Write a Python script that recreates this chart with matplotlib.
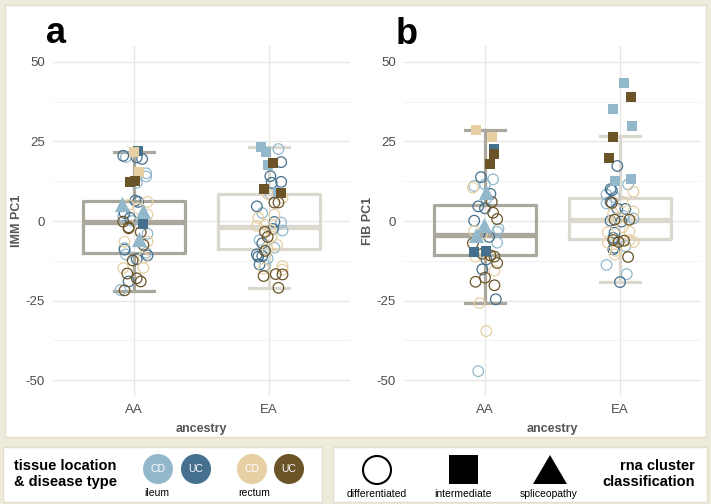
import matplotlib
matplotlib.use('Agg')
import matplotlib.pyplot as plt
from matplotlib.patches import Rectangle, Circle, Polygon
import numpy as np

plt.rcParams['font.family'] = ['Liberation Sans', 'DejaVu Sans']

ancestry = ['AA', 'EA']
# group codes: L ileum CD, D ileum UC, B rectum CD, R rectum UC
group_colors = {'L': '#93b8cc', 'D': '#45708d', 'B': '#e6cfa3', 'R': '#6b5428'}
box_colors = ['#aaa79d', '#dbd8cf']
cream = '#efebdc'

# ---- IMM PC1 (panel a) ----
imm_aa_jit = [0.0, 0.03, -0.08, -0.06, 0.02, 0.06, 0.04, 0.09, 0.09, -0.03, 0.01, 0.02,
              -0.09, 0.01, 0.03, 0.1, -0.04, 0.07, -0.07, -0.08, -0.03, 0.1, 0.03, -0.08,
              -0.04, -0.04, -0.01, 0.03, 0.07, 0.05, 0.1, -0.07, 0.1, 0.04, 0.07, -0.07,
              -0.07, -0.06, 0.1, 0.09, -0.01, 0.02, 0.07, -0.08, 0.07, -0.05, 0.02, 0.05,
              -0.04, -0.1, -0.07]
imm_aa_val = [21.7, 21.9, 20.5, 20.1, 20.0, 19.5, 15.5, 15.0, 14.0, 12.3, 12.6, 12.0,
              5.4, 6.4, 6.0, 6.0, 5.0, 3.0, 2.5, 1.5, 1.0, 2.0, 4.0, -0.2,
              -2.0, -2.3, 0.0, -0.5, -1.0, -3.5, -4.0, -6.5, -6.5, -5.7, -7.5, -8.5,
              -9.0, -10.5, -10.8, -10.0, -12.4, -12.0, -11.5, -14.8, -14.7, -16.5, -18.0, -19.0,
              -19.0, -21.7, -21.8]
imm_aa_grp = 'BDDLDDBLLRRL' + 'LDDBBLDLDBBR' + 'RRLBDRLBBLRL' + 'DLDLRDBBBRRR' + 'DLR'
imm_aa_shp = 'ss' + 'oooo' + 's' + 'oo' + 'ss' + 'o' + '^' + 'oooo' + '^' + 'o' * 10 + 's' + 'oooo' + '^' + 'o' * 17

imm_ea_jit = [-0.06, -0.02, -0.01, 0.07, 0.07, 0.03, -0.04, 0.09, 0.09, 0.01, 0.09, 0.02,
              0.01, -0.01, 0.1, 0.04, 0.07, -0.09, -0.05, 0.04, -0.08, 0.04, 0.09, -0.09,
              -0.03, 0.01, 0.03, 0.1, -0.03, 0.02, -0.01, -0.07, -0.05, 0.04, 0.06, -0.03,
              -0.01, -0.09, -0.08, -0.05, -0.01, -0.07, -0.03, -0.04, 0.1, 0.1, -0.04, 0.05,
              0.1, 0.07]
imm_ea_val = [23.2, 21.8, 17.6, 9.1, 22.6, 18.3, 10.0, 8.8, 18.5, 14.1, 12.3, 12.0,
              8.5, 8.5, 7.3, 5.8, 5.8, 4.6, 2.5, 2.0, 1.0, -0.3, -0.5, -1.5,
              -1.2, -2.7, -2.5, -3.0, -3.4, -4.9, -5.0, -6.0, -7.0, -8.4, -7.5, -9.4,
              -8.9, -10.5, -11.2, -11.0, -11.8, -13.7, -14.0, -15.0, -14.2, -15.3, -17.3, -16.7,
              -16.8, -21.0]
imm_ea_grp = 'LLLLLRRRDDDD' + 'LBBRRDLBBDLB' + 'BBDLRBRLDLBR' + 'BDDDLDLBBBRR' + 'RR'
imm_ea_shp = 'ssss' + 'o' + 'sss' + 'o' * 42

# ---- FIB PC1 (panel b) ----
fib_aa_jit = [-0.07, 0.05, 0.07, 0.07, 0.04, -0.03, 0.06, -0.08, -0.09, 0.0, 0.01, 0.04,
              -0.05, 0.0, 0.05, 0.01, 0.06, 0.09, -0.08, -0.01, -0.08, 0.1, 0.09, -0.07,
              -0.02, 0.03, 0.09, -0.09, -0.08, 0.01, -0.02, 0.04, 0.07, -0.07, 0.09, 0.01,
              0.07, -0.02, 0.0, -0.07, 0.07, 0.08, -0.04, 0.01, -0.05, 0.04]
fib_aa_val = [28.6, 26.5, 22.6, 21.0, 17.9, 13.8, 13.1, 11.0, 10.5, 11.5, 9.0, 8.5,
              4.6, 4.0, 6.0, 7.0, 2.6, 0.6, 0.1, -1.4, -3.1, -2.5, -3.4, -4.4,
              -4.0, -5.0, -6.8, -7.0, -9.8, -9.3, -10.3, -10.8, -11.2, -11.2, -13.2, -12.1,
              -15.6, -15.2, -17.8, -19.1, -20.2, -24.6, -25.8, -34.6, -47.2, -11.0]
fib_aa_grp = 'BBDRRDLLBLLD' + 'DDRLRRDLBLLL' + 'BDLRDDRRRBRD' + 'BDRRRDBBLB'
fib_aa_shp = 'sssss' + 'ooooo' + '^' + 'o' * 8 + '^' + 'ooo' + '^' + 'oooo' + 'ss' + 'o' * 16

fib_ea_jit = [0.03, 0.08, -0.05, 0.09, -0.05, -0.08, -0.04, 0.08, -0.02, 0.06, 0.1, -0.07,
              -0.06, -0.1, -0.04, -0.07, -0.1, -0.06, 0.02, -0.02, 0.04, 0.1, -0.05, 0.03,
              -0.01, -0.07, -0.04, 0.01, 0.07, 0.1, 0.02, -0.09, 0.07, -0.04, -0.05, -0.05,
              -0.01, 0.07, 0.03, 0.1, 0.04, -0.09, -0.04, -0.03, -0.05, -0.04, 0.06, -0.1,
              0.05, 0.0]
fib_ea_val = [43.4, 39.1, 35.1, 30.0, 26.5, 19.8, 12.6, 13.3, 17.3, 11.5, 9.2, 10.0,
              9.6, 8.3, 7.5, 6.0, 5.5, 5.7, 6.0, 3.9, 3.8, 3.0, 2.4, 1.5,
              1.0, 0.1, 0.4, -0.2, 0.4, 0.8, -2.0, -3.5, -3.3, -3.7, -5.3, -6.0,
              -6.6, -6.0, -6.2, -6.6, -7.9, -6.8, -8.4, -9.4, -8.9, -10.5, -11.3, -13.8,
              -16.7, -19.2]
fib_ea_grp = 'LRLLRRLLDLBD' + 'DLLDLRBDDBBL' + 'BDRDRLBBBDDR' + 'RBRBLBDBDBRL' + 'LD'
fib_ea_shp = 's' * 8 + 'o' * 42

# box stats: q1, median, q3, whisker low, whisker high
imm_box = [(-10.2, -0.3, 6.2, -22.0, 21.8), (-8.7, -2.0, 8.6, -21.2, 23.4)]
fib_box = [(-10.7, -4.4, 5.1, -25.7, 28.6), (-5.8, 0.4, 7.3, -19.3, 26.6)]

tissue = ['ileum', 'rectum']
disease = ['CD', 'UC', 'CD', 'UC']
legend_groups = ['L', 'D', 'B', 'R']
clusters = ['differentiated', 'intermediate', 'spliceopathy']

fig = plt.figure(figsize=(7.11, 5.04), dpi=100, facecolor=cream)

# background boxes in pixel units
bg = fig.add_axes([0, 0, 1, 1], zorder=0)
bg.set_xlim(0, 711)
bg.set_ylim(504, 0)
bg.axis('off')
for (x0, y0, x1, y1) in [(5, 5, 706, 437), (3, 447, 322, 502), (333, 447, 707, 502)]:
    bg.add_patch(Rectangle((x0, y0), x1 - x0, y1 - y0, facecolor='white',
                           edgecolor='#e4dfcc', lw=1))


def panel(rect, clouds, boxes, ylabel):
    ax = fig.add_axes(rect, zorder=1)
    ax.set_facecolor('white')
    for i, b in enumerate(boxes):
        st = dict(q1=b[0], med=b[1], q3=b[2], whislo=b[3], whishi=b[4], fliers=[])
        c = box_colors[i]
        ax.bxp([st], positions=[i + 1], widths=0.75, capwidths=0.29, showfliers=False,
               boxprops=dict(color=c, lw=2.3), whiskerprops=dict(color=c, lw=2.3),
               capprops=dict(color=c, lw=2.3), medianprops=dict(color=c, lw=3.8),
               manage_ticks=False, zorder=2)
    for i, (jit, val, grp, shp) in enumerate(clouds):
        jit = np.array(jit)
        val = np.array(val)
        grp = np.array(list(grp))
        shp = np.array(list(shp))
        xs = i + 1 + jit
        for g, col in group_colors.items():
            m = (grp == g) & (shp == 'o')
            ax.scatter(xs[m], val[m], s=58, facecolors='none', edgecolors=col,
                       linewidths=0.9, zorder=3)
            m = (grp == g) & (shp == 's')
            ax.scatter(xs[m], val[m], s=48, marker='s', color=col, lw=0, zorder=4)
            m = (grp == g) & (shp == '^')
            ax.scatter(xs[m], val[m], s=120, marker='^', color=col, lw=0, zorder=4)
    ax.set_xlim(0.4, 2.6)
    ax.set_ylim(-55, 55)
    ax.set_xticks([1, 2])
    ax.set_xticklabels(ancestry)
    ax.set_yticks([-50, -25, 0, 25, 50])
    ax.set_yticklabels(['-50', '-25', '0', '25', '50'])
    ax.set_yticks([-37.5, -12.5, 12.5, 37.5], minor=True)
    ax.grid(True, which='major', color='#e6e6e6', lw=0.9, zorder=0)
    ax.grid(True, which='minor', axis='y', color='#f2f2f2', lw=0.7, zorder=0)
    ax.set_axisbelow(True)
    ax.tick_params(which='both', length=0, labelsize=9.5, labelcolor='#4d4d4d', pad=6)
    for s in ax.spines.values():
        s.set_visible(False)
    ax.set_ylabel(ylabel, fontsize=9, fontweight='bold', color='#555555')
    ax.yaxis.set_label_coords(-0.102, 0.5)
    ax.set_xlabel('ancestry', fontsize=9, fontweight='bold', color='#555555')
    ax.xaxis.set_label_coords(0.5, -0.077)
    return ax


ax_a = panel([53 / 711, 1 - 396 / 504, 297 / 711, 350 / 504],
             [(imm_aa_jit, imm_aa_val, imm_aa_grp, imm_aa_shp),
              (imm_ea_jit, imm_ea_val, imm_ea_grp, imm_ea_shp)], imm_box, 'IMM PC1')
ax_b = panel([404 / 711, 1 - 396 / 504, 297 / 711, 350 / 504],
             [(fib_aa_jit, fib_aa_val, fib_aa_grp, fib_aa_shp),
              (fib_ea_jit, fib_ea_val, fib_ea_grp, fib_ea_shp)], fib_box, 'FIB PC1')

fig.text(46 / 711, 1 - 43 / 504, 'a', fontsize=26, fontweight='bold', ha='left', va='baseline')
fig.text(396 / 711, 1 - 44 / 504, 'b', fontsize=26, fontweight='bold', ha='left', va='baseline')

# legend: tissue location & disease type
leg = fig.add_axes([0, 0, 1, 1], zorder=2)
leg.set_xlim(0, 711)
leg.set_ylim(504, 0)
leg.axis('off')
leg.patch.set_visible(False)
leg.text(14, 474, 'tissue location\n& disease type', fontsize=10.5, fontweight='bold',
         ha='left', va='center', linespacing=1.2)
for cx, g, d in zip([158, 196, 252, 289], legend_groups, disease):
    leg.add_patch(Circle((cx, 469), 15, color=group_colors[g], lw=0))
    leg.text(cx, 469, d, fontsize=7.5, color='white', ha='center', va='center')
for cx, t in zip([157, 254], tissue):
    leg.text(cx, 493, t, fontsize=7.5, ha='center', va='center')

# legend: rna cluster classification
leg.add_patch(Circle((377, 470), 14, facecolor='none', edgecolor='black', lw=1.5))
leg.add_patch(Rectangle((449, 455), 29, 29, color='black', lw=0))
leg.add_patch(Polygon([(533, 484), (567, 484), (550, 455)], closed=True, color='black', lw=0))
for cx, t in zip([377, 463, 549], clusters):
    leg.text(cx, 494, t, fontsize=7.5, ha='center', va='center')
leg.text(695, 474, 'rna cluster\nclassification', fontsize=10.5, fontweight='bold',
         ha='right', va='center', linespacing=1.2)

fig.savefig('out.png', dpi=100, facecolor=cream)
